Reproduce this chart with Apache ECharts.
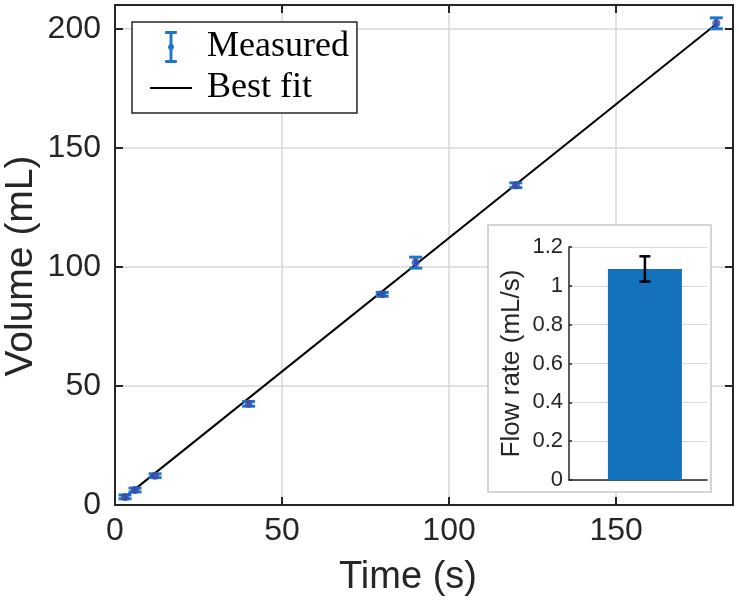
<!DOCTYPE html>
<html>
<head>
<meta charset="utf-8">
<script src="https://cdn.jsdelivr.net/npm/echarts@6/dist/echarts.min.js"></script>
<style>
  html, body { margin: 0; padding: 0; background: #fff; }
  #chart { width: 739px; height: 606px; }
</style>
</head>
<body>
<div id="chart"></div>
<script>
// measured points
const timeS = [3, 6, 12, 40, 80, 90, 120, 180];
const volumeML = [3.4, 6.3, 12.3, 42.5, 88.5, 101.8, 134.3, 202.3];
const volumeErr = [0.8, 0.8, 0.8, 1.0, 0.8, 2.3, 1.0, 2.3];

// best fit line ends
const fitTime = [3, 180];
const fitVolume = [3.3, 202];

// inset bar
const flowRate = [1.087];
const flowErr = [0.065];

const axisColor = '#262626';
const gridColor = '#d9d9d9';
const sans = 'Liberation Sans, Arial, sans-serif';
const serif = 'Liberation Serif, Times New Roman, serif';

const measured = timeS.map((t, i) => [t, volumeML[i], volumeErr[i]]);
const fitLine = fitTime.map((t, i) => [t, fitVolume[i]]);
const flowData = flowRate.map((v, i) => [1, v, flowErr[i]]);

// vertical error bar with caps
function errorBar(color, capW, lineW) {
  return function (params, api) {
    const x = api.value(0), y = api.value(1), e = api.value(2);
    const hi = api.coord([x, y + e]);
    const lo = api.coord([x, y - e]);
    const style = { stroke: color, lineWidth: lineW };
    return {
      type: 'group',
      children: [
        { type: 'line', shape: { x1: hi[0], y1: hi[1], x2: lo[0], y2: lo[1] }, style },
        { type: 'line', shape: { x1: hi[0] - capW / 2, y1: hi[1], x2: hi[0] + capW / 2, y2: hi[1] }, style },
        { type: 'line', shape: { x1: lo[0] - capW / 2, y1: lo[1], x2: lo[0] + capW / 2, y2: lo[1] }, style },
      ],
    };
  };
}

const chart = echarts.init(document.getElementById('chart'));

const option = {
  animation: false,
  backgroundColor: '#fff',
  grid: [
    { left: 115, top: 5, right: 6, bottom: 101, outerBoundsMode: 'none', containLabel: false },
    { left: 569, top: 247, width: 138, height: 233, outerBoundsMode: 'none', containLabel: false, zlevel: 1 },
  ],
  graphic: [
    {
      type: 'rect', zlevel: 1, z: 0,
      shape: { x: 488, y: 225, width: 223, height: 267 },
      style: { fill: '#fff', stroke: '#c8c8c8', lineWidth: 1.5 },
    },
  ],
  legend: {
    left: 132, top: 22, orient: 'vertical',
    padding: [7, 8, 7, 18],
    itemWidth: 42, itemHeight: 32, itemGap: 5,
    backgroundColor: '#fff', borderColor: axisColor, borderWidth: 1.5,
    textStyle: { fontFamily: serif, fontSize: 36, color: '#000', lineHeight: 32, padding: [0, 0, 0, 10] },
    data: [
      { name: 'Measured', icon: 'path://M0,0 h12 v3 h-4.5 v10.5 a4,4 0 0 1 0,6 v10.5 h4.5 v3 h-12 v-3 h4.5 v-10.5 a4,4 0 0 1 0,-6 v-10.5 h-4.5 z', itemStyle: { color: '#1f74cc' } },
      { name: 'Best fit', icon: 'path://M0,0 h42 v2 h-42 z', itemStyle: { color: '#000' } },
    ],
  },
  xAxis: [
    {
      type: 'value', gridIndex: 0, min: 0, max: 185, interval: 50,
      name: 'Time (s)', nameLocation: 'middle', nameGap: 54, nameMoveOverlap: false,
      nameTextStyle: { fontFamily: sans, fontSize: 38, color: axisColor, padding: [0, 32, 0, 0] },
      axisLine: { show: true, onZero: false, lineStyle: { color: axisColor, width: 2 } },
      axisTick: { show: true, inside: true, length: 8, lineStyle: { color: axisColor, width: 2 } },
      axisLabel: { fontFamily: sans, fontSize: 32, color: axisColor, margin: 10, showMaxLabel: false },
      splitLine: { show: true, lineStyle: { color: gridColor, width: 1.5 } },
    },
    {
      type: 'value', gridIndex: 0, position: 'top', min: 0, max: 185, interval: 50, z: 3,
      axisLine: { show: true, onZero: false, lineStyle: { color: axisColor, width: 2 } },
      axisTick: { show: true, inside: true, length: 8, lineStyle: { color: axisColor, width: 2 } },
      axisLabel: { show: false },
      splitLine: { show: false },
    },
    {
      type: 'value', gridIndex: 1, min: 0.45, max: 1.45, zlevel: 1, z: 2,
      axisLine: { show: true, onZero: false, lineStyle: { color: axisColor, width: 1.5 } },
      axisTick: { show: false },
      axisLabel: { show: false },
      splitLine: { show: false },
    },
  ],
  yAxis: [
    {
      type: 'value', gridIndex: 0, min: 0, max: 210, interval: 50,
      name: 'Volume (mL)', nameLocation: 'middle', nameGap: 74, nameMoveOverlap: false,
      nameTextStyle: { fontFamily: sans, fontSize: 39, color: axisColor, padding: [0, 22, 0, 0] },
      axisLine: { show: true, onZero: false, lineStyle: { color: axisColor, width: 2 } },
      axisTick: { show: true, inside: true, length: 8, lineStyle: { color: axisColor, width: 2 } },
      axisLabel: { fontFamily: sans, fontSize: 32, color: axisColor, margin: 14, showMaxLabel: false },
      splitLine: { show: true, lineStyle: { color: gridColor, width: 1.5 } },
    },
    {
      type: 'value', gridIndex: 0, position: 'right', min: 0, max: 210, interval: 50, z: 3,
      axisLine: { show: true, onZero: false, lineStyle: { color: axisColor, width: 2 } },
      axisTick: { show: true, inside: true, length: 8, lineStyle: { color: axisColor, width: 2 } },
      axisLabel: { show: false },
      splitLine: { show: false },
    },
    {
      type: 'value', gridIndex: 1, min: 0, max: 1.2, interval: 0.2, zlevel: 1, z: 1,
      name: 'Flow rate (mL/s)', nameLocation: 'middle', nameGap: 44, nameMoveOverlap: false,
      nameTextStyle: { fontFamily: sans, fontSize: 26, color: axisColor },
      axisLine: { show: true, onZero: false, lineStyle: { color: axisColor, width: 1.5 } },
      axisTick: { show: true, inside: true, length: 3, lineStyle: { color: axisColor, width: 1.5 } },
      axisLabel: { fontFamily: sans, fontSize: 22, color: axisColor, margin: 6 },
      splitLine: { show: true, lineStyle: { color: gridColor, width: 1.2 } },
    },
  ],
  series: [
    {
      name: 'Best fit', type: 'line', xAxisIndex: 0, yAxisIndex: 0,
      data: fitLine, showSymbol: false, z: 3,
      lineStyle: { color: '#000', width: 2 },
    },
    {
      name: 'Measured', type: 'custom', xAxisIndex: 0, yAxisIndex: 0,
      data: measured, z: 4,
      renderItem: errorBar('#1f74cc', 13, 3),
    },
    {
      name: 'Measured', type: 'scatter', xAxisIndex: 0, yAxisIndex: 0,
      data: measured.map((d) => [d[0], d[1]]), z: 5,
      symbolSize: 8, itemStyle: { color: '#3a4aa6' },
    },
    {
      name: 'Flow rate', type: 'bar', xAxisIndex: 2, yAxisIndex: 2, zlevel: 1, z: 3,
      data: flowData.map((d) => [d[0], d[1]]), barWidth: 74,
      itemStyle: { color: '#1472bd' },
    },
    {
      name: 'Flow error', type: 'custom', xAxisIndex: 2, yAxisIndex: 2, zlevel: 1, z: 5,
      data: flowData,
      renderItem: errorBar('#000', 11, 2.5),
    },
  ],
};

chart.setOption(option);

window.addEventListener('resize', () => {
  chart.resize();
});
</script>
</body>
</html>
